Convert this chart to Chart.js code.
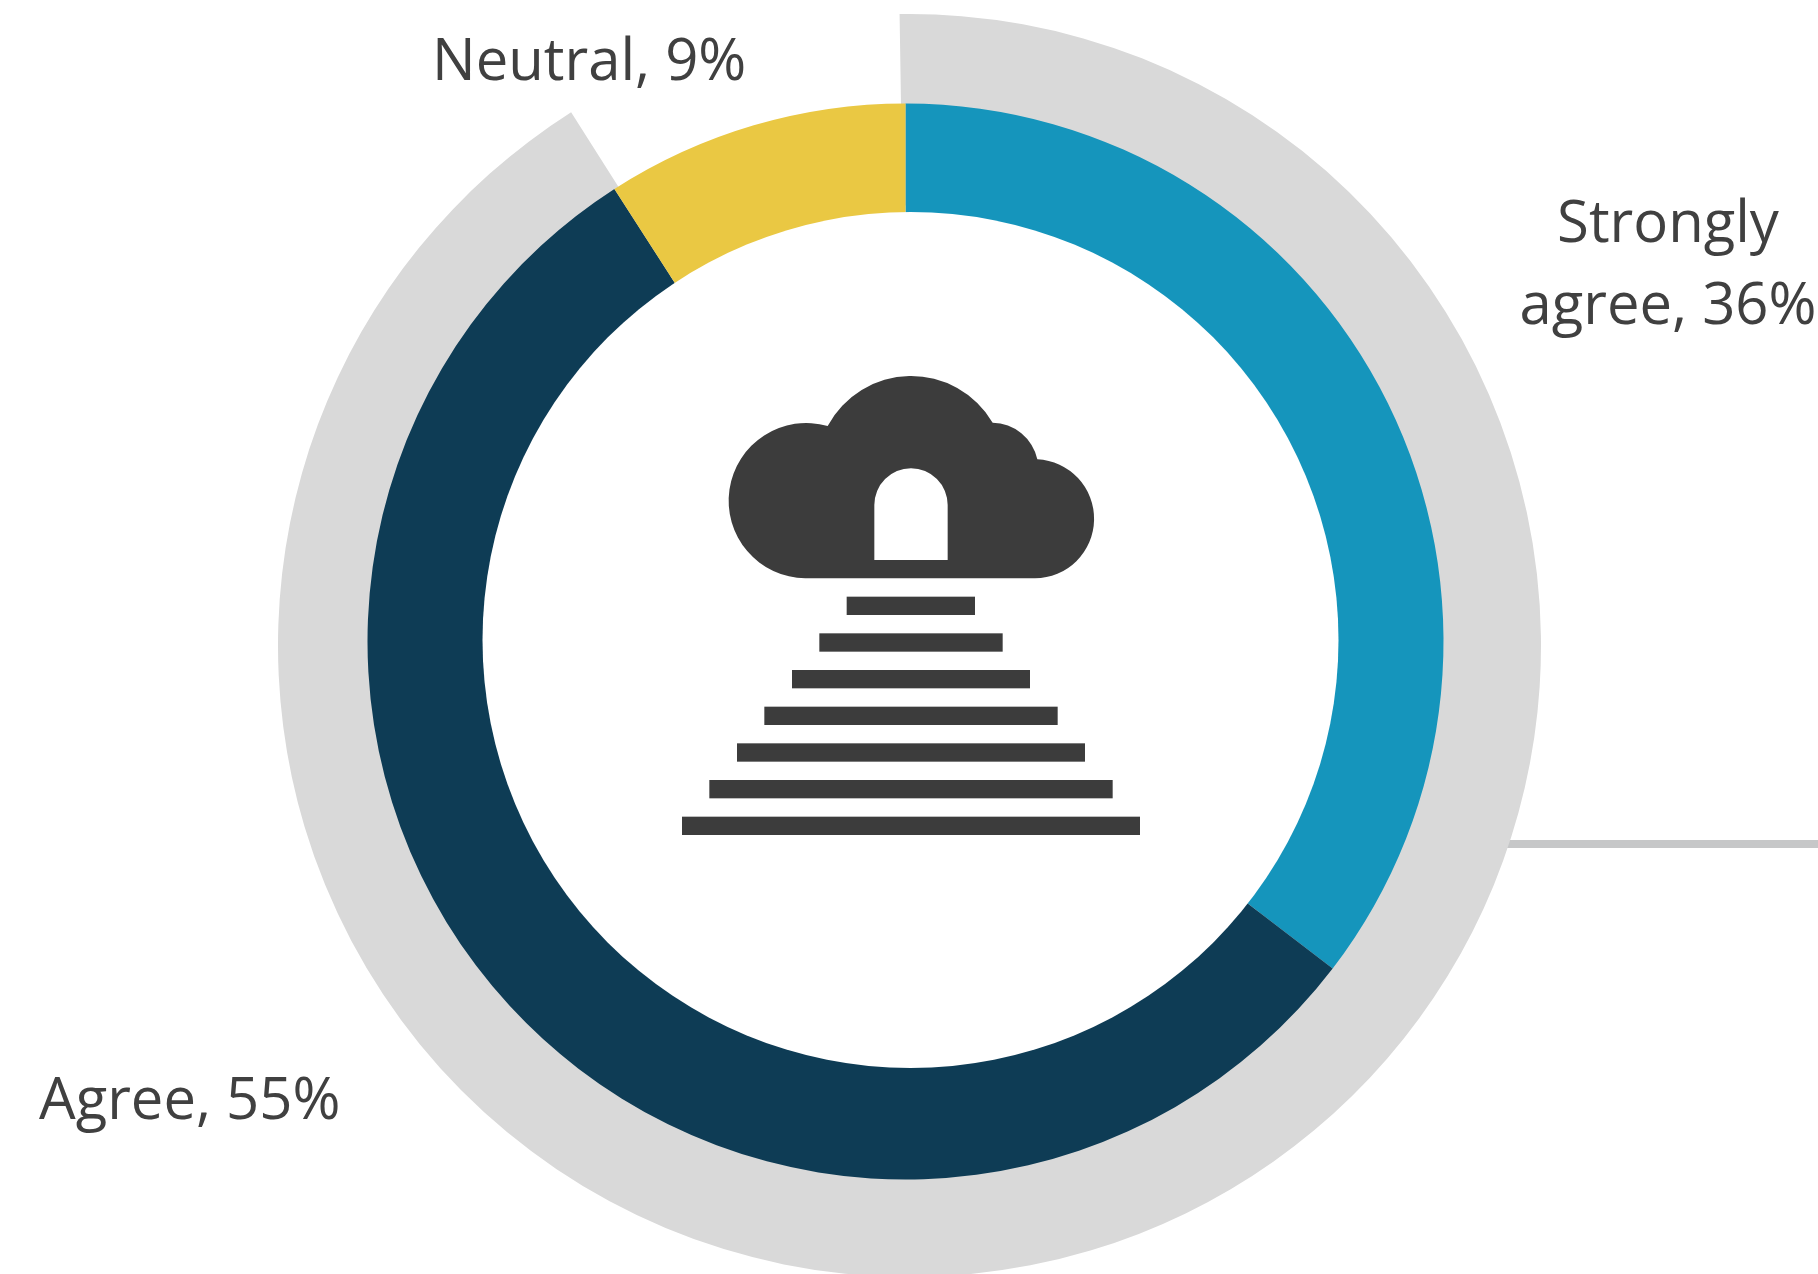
<!DOCTYPE html>
<html>
<head>
<meta charset="utf-8">
<title>Survey ring</title>
<script src="https://cdn.jsdelivr.net/npm/chart.js@4"></script>
<style>
    html, body { margin: 0; padding: 0; background: #fff; overflow: hidden; width: 1818px; height: 1274px; }
    canvas { position: absolute; left: 0; top: 0; }
</style>
</head>
<body>
<canvas id="ring" width="1818" height="1300"></canvas>
<canvas id="answers" width="1818" height="1274"></canvas>
<script>
const categories = ['Strongly agree', 'Agree', 'Neutral'];
const shares = [35.4, 55.5, 9.1];
const percentLabels = ['36%', '55%', '9%'];
const colors = ['#1595bc', '#0e3c55', '#eac843'];
const ringValues = [91.25, 8.75];

const textColor = '#404040';
const iconColor = '#3c3c3c';

// stair steps of the icon: x, y, width, height in the icon's own units
const stairs = [
    [560, 740, 385, 55],
    [478, 850, 550, 55],
    [396, 960, 714, 55],
    [313, 1070, 880, 55],
    [231, 1180, 1044, 55],
    [148, 1290, 1210, 55],
    [66, 1400, 1374, 55],
];
const cloud = 'M436 685 A233 233 0 1 1 503 228 A284 284 0 0 1 998 218 A140 140 0 0 1 1132 328 A178.6 178.6 0 0 1 1125 685 Z ' +
    'M643 630 V465 A110 110 0 0 1 863 465 V630 Z';

const labelSpots = [
    { x: 1668, y: 242, align: 'center' },
    { x: 39, y: 1119, align: 'left' },
    { x: 432, y: 80, align: 'left' },
];

// "Strongly agree" breaks over two lines in the picture
function labelLines(i) {
    if (i === 0) {
        const words = categories[0].split(' ');
        return [words[0], words[1] + ', ' + percentLabels[0]];
    }
    return [categories[i] + ', ' + percentLabels[i]];
}

const connector = {
    id: 'connector',
    beforeDatasetsDraw(chart) {
        chart.ctx.fillStyle = '#c6c7c8';
        chart.ctx.fillRect(1400, 840, 418, 8);
    }
};

const centerIcon = {
    id: 'centerIcon',
    afterDatasetsDraw(chart) {
        const ctx = chart.ctx;
        ctx.save();
        ctx.fillStyle = '#fff';
        ctx.beginPath();
        ctx.arc(910.5, 640, 428, 0, Math.PI * 2);
        ctx.fill();

        ctx.translate(660, 350);
        ctx.scale(1 / 3, 1 / 3);
        ctx.fillStyle = iconColor;
        ctx.fill(new Path2D(cloud), 'evenodd');
        stairs.forEach((s) => ctx.fillRect(s[0], s[1], s[2], s[3]));
        ctx.restore();
    }
};

const answerLabels = {
    id: 'answerLabels',
    afterDraw(chart) {
        const ctx = chart.ctx;
        ctx.save();
        ctx.fillStyle = textColor;
        ctx.font = '400 58px "Open Sans"';
        ctx.textBaseline = 'alphabetic';
        categories.forEach((cat, i) => {
            const spot = labelSpots[i];
            ctx.textAlign = spot.align;
            labelLines(i).forEach((line, n) => {
                ctx.fillText(line, spot.x, spot.y + n * 82);
            });
        });
        ctx.restore();
    }
};

new Chart(document.getElementById('ring'), {
    type: 'doughnut',
    data: {
        labels: ['Agree or strongly agree', 'Neutral gap'],
        datasets: [{
            data: ringValues,
            backgroundColor: ['#d9d9d9', 'rgba(0,0,0,0)'],
            borderWidth: 0,
        }]
    },
    options: {
        responsive: false,
        animation: false,
        rotation: -0.9,
        cutout: 440,
        layout: { padding: { left: 278, top: 14, right: 277, bottom: 23 } },
        plugins: { legend: { display: false }, tooltip: { enabled: false } }
    },
    plugins: [connector]
});

new Chart(document.getElementById('answers'), {
    type: 'pie',
    data: {
        labels: categories,
        datasets: [{
            data: shares,
            backgroundColor: colors,
            borderWidth: 0,
        }]
    },
    options: {
        responsive: false,
        animation: false,
        layout: { padding: { left: 367.5, top: 103.5, right: 374.5, bottom: 94.5 } },
        plugins: { legend: { display: false }, tooltip: { enabled: false } }
    },
    plugins: [centerIcon, answerLabels]
});
</script>
</body>
</html>
